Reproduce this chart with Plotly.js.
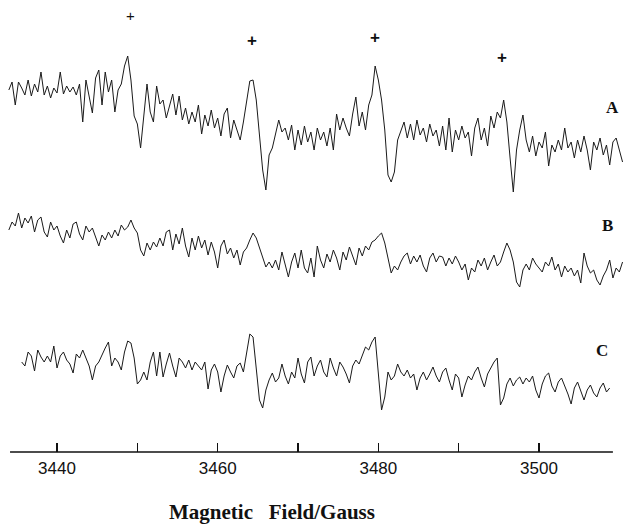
<!DOCTYPE html>
<html>
<head>
<meta charset="utf-8">
<script src="https://cdn.plot.ly/plotly-3.0.1.min.js"></script>
<style>html,body{margin:0;padding:0;background:#fff;}#chart{width:624px;height:528px;}</style>
</head>
<body>
<div id="chart"></div>
<script>
// Magnetic field sampling (Gauss)
var field = [3434.0,3434.4,3434.8,3435.2,3435.6,3436.0,3436.4,3436.8,3437.2,3437.6,
3438.0,3438.4,3438.8,3439.2,3439.6,3440.0,3440.4,3440.8,3441.2,3441.6,
3442.0,3442.4,3442.8,3443.2,3443.6,3444.0,3444.4,3444.8,3445.2,3445.6,
3446.0,3446.4,3446.8,3447.2,3447.6,3448.0,3448.4,3448.8,3449.2,3449.6,
3450.0,3450.4,3450.8,3451.2,3451.6,3452.0,3452.4,3452.8,3453.2,3453.6,
3454.0,3454.4,3454.8,3455.2,3455.6,3456.0,3456.4,3456.8,3457.2,3457.6,
3458.0,3458.4,3458.8,3459.2,3459.6,3460.0,3460.4,3460.8,3461.2,3461.6,
3462.0,3462.4,3462.8,3463.2,3463.6,3464.0,3464.4,3464.8,3465.2,3465.6,
3466.0,3466.4,3466.8,3467.2,3467.6,3468.0,3468.4,3468.8,3469.2,3469.6,
3470.0,3470.4,3470.8,3471.2,3471.6,3472.0,3472.4,3472.8,3473.2,3473.6,
3474.0,3474.4,3474.8,3475.2,3475.6,3476.0,3476.4,3476.8,3477.2,3477.6,
3478.0,3478.4,3478.8,3479.2,3479.6,3480.0,3480.4,3480.8,3481.2,3481.6,
3482.0,3482.4,3482.8,3483.2,3483.6,3484.0,3484.4,3484.8,3485.2,3485.6,
3486.0,3486.4,3486.8,3487.2,3487.6,3488.0,3488.4,3488.8,3489.2,3489.6,
3490.0,3490.4,3490.8,3491.2,3491.6,3492.0,3492.4,3492.8,3493.2,3493.6,
3494.0,3494.4,3494.8,3495.2,3495.6,3496.0,3496.4,3496.8,3497.2,3497.6,
3498.0,3498.4,3498.8,3499.2,3499.6,3500.0,3500.4,3500.8,3501.2,3501.6,
3502.0,3502.4,3502.8,3503.2,3503.6,3504.0,3504.4,3504.8,3505.2,3505.6,
3506.0,3506.4,3506.8,3507.2,3507.6,3508.0,3508.4,3508.8,3509.2,3509.6,
3510.0,3510.4];

// Spectrum A (arbitrary units, stacked)
var specA = [362,370,347,370,364,357,372,356,368,360,
380,357,366,354,364,359,380,358,366,360,
365,357,368,330,372,357,339,374,382,347,
380,360,372,340,362,368,386,396,372,336,
328,304,340,368,340,330,366,348,352,334,
346,358,337,356,332,344,328,340,330,347,
318,337,326,342,324,334,316,338,344,314,
332,322,312,330,352,371,372,352,317,282,
262,297,304,317,332,320,324,312,327,302,
322,307,326,310,320,302,324,312,320,306,
324,302,338,322,334,324,316,338,355,326,
340,322,347,357,386,372,352,322,277,270,
280,312,320,330,314,328,312,332,317,324,
310,328,316,322,306,326,302,334,300,322,
312,326,314,320,296,324,334,312,324,306,
336,324,340,334,352,330,294,260,302,322,
337,312,300,316,296,310,304,320,286,307,
300,312,302,324,304,310,294,312,300,316,
302,282,310,302,314,297,307,287,310,314,
302,290];

// Spectrum B
var specB = [222,230,226,239,224,234,229,236,220,232,
235,220,215,230,222,226,216,209,222,214,
228,230,218,212,226,220,224,214,206,217,
212,220,214,222,216,227,222,225,232,224,
219,202,196,209,202,210,205,214,206,220,
222,202,218,208,224,206,195,214,202,216,
204,212,197,210,200,184,206,212,198,204,
194,202,187,200,204,212,219,214,205,194,
185,190,184,192,182,200,186,175,190,199,
184,202,184,179,194,175,206,192,184,198,
190,202,194,182,200,192,205,196,187,204,
196,206,202,210,212,216,219,209,194,179,
186,182,190,196,199,188,196,190,197,186,
180,194,199,190,196,195,186,194,188,196,
190,182,188,172,184,180,192,186,194,182,
190,197,186,190,200,209,202,190,170,165,
182,188,182,194,188,184,180,190,186,195,
182,188,175,186,180,184,176,182,169,199,
186,179,182,172,167,176,182,192,174,184,
180,190];

// Spectrum C (recorded from field index 4 to 187)
var specCStart = 4;
var specC = [90,86,100,96,81,102,
95,90,96,90,106,84,96,100,92,88,
79,98,94,102,94,86,72,86,90,98,
104,110,86,94,90,82,100,111,109,94,
68,72,80,72,90,100,76,100,75,88,
99,86,75,94,90,84,92,82,90,86,
82,90,63,82,88,80,60,76,87,80,
74,86,89,80,100,118,115,80,52,44,
62,72,79,70,74,88,76,68,80,74,
94,78,69,90,95,76,86,92,80,75,
94,84,76,90,85,78,69,86,92,88,
97,105,102,110,115,82,42,55,80,72,
76,88,80,76,82,74,78,62,74,80,
72,78,85,76,70,80,84,72,62,78,
74,55,67,76,72,80,85,74,65,78,
84,90,94,47,54,68,74,66,72,75,
68,74,70,76,62,54,68,76,79,66,
60,70,74,66,58,48,64,70,60,52,
62,67,59,55,64,69,60,64];

var tickVals = [3440,3450,3460,3470,3480,3490,3500];
var tickText = ['3440','','3460','','3480','','3500'];
var traceLabels = ['A','B','C'];
var markFields = [3449.1,3464.3,3479.6,3495.4];

var lineStyle = {color:'#1a1a1a', width:1};
var fieldC = field.slice(specCStart, specCStart + specC.length);

var data = [
  {x: field, y: specA, type:'scatter', mode:'lines', line: lineStyle, hoverinfo:'skip'},
  {x: field, y: specB, type:'scatter', mode:'lines', line: lineStyle, hoverinfo:'skip'},
  {x: fieldC, y: specC, type:'scatter', mode:'lines', line: lineStyle, hoverinfo:'skip'}
];

var markY = [437,412,415,395];
var labelPos = [{x:3509.1,y:345},{x:3508.5,y:227},{x:3507.8,y:102}];

var annotations = [];
markFields.forEach(function(f,i){
  annotations.push({x:f, y:markY[i], xref:'x', yref:'y', text:'+', showarrow:false,
    xanchor:'center', yanchor:'middle',
    font:{family:'Liberation Sans', size: i===0 ? 15 : 17, color:'#111', weight: i===0 ? 'normal':'bold'}});
});
traceLabels.forEach(function(t,i){
  annotations.push({x:labelPos[i].x, y:labelPos[i].y, xref:'x', yref:'y', text:'<b>'+t+'</b>', showarrow:false,
    xanchor:'center', yanchor:'middle',
    font:{family:'Liberation Serif', size:17, color:'#111'}});
});
annotations.push({x:272/624, y:-0.133, xref:'paper', yref:'paper', text:'<b>Magnetic\u00a0\u00a0 Field/Gauss</b>',
  showarrow:false, xanchor:'center', yanchor:'middle', font:{family:'Liberation Serif', size:21, color:'#111'}});

var layout = {
  width:624, height:528,
  margin:{l:0, r:0, t:0, b:76},
  paper_bgcolor:'#fff', plot_bgcolor:'#fff',
  showlegend:false,
  xaxis:{range:[3432.9,3510.58], showline:false, showgrid:false, zeroline:false,
    tickmode:'array', tickvals:tickVals, ticktext:tickText,
    ticks:'inside', ticklen:9, tickwidth:1.2, tickcolor:'#111',
    ticklabelstandoff:4,
    tickfont:{family:'Liberation Sans', size:17, color:'#111'}},
  yaxis:{range:[0,452], visible:false, fixedrange:true},
  shapes:[{type:'line', xref:'x', yref:'paper', x0:3434.15, x1:3509.2, y0:0, y1:0,
    line:{color:'#111', width:1.5}}],
  annotations: annotations
};

Plotly.newPlot('chart', data, layout, {staticPlot:true, displayModeBar:false});
</script>
</body>
</html>
